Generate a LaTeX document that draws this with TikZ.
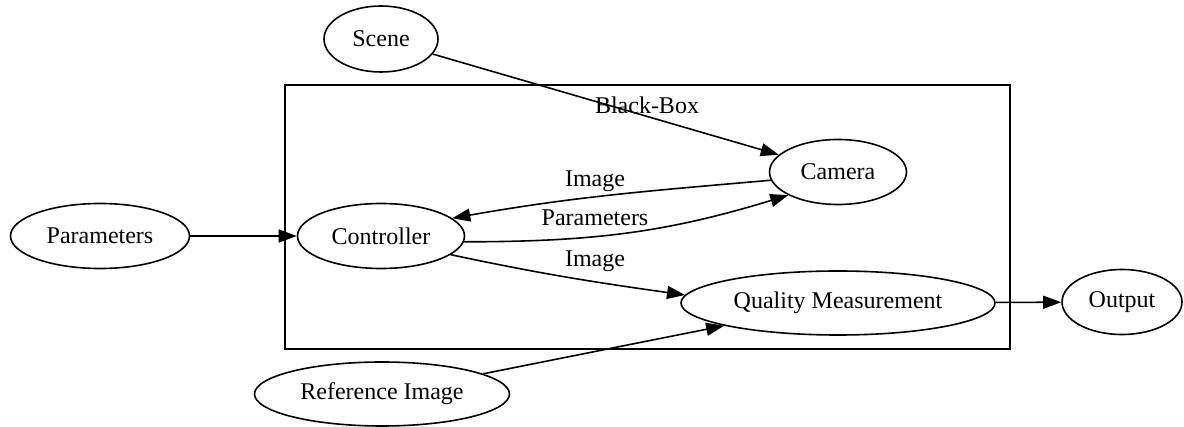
\documentclass[tikz,border=0pt]{standalone}
\usepackage{fontspec}
\setmainfont{Liberation Serif}
\usetikzlibrary{arrows.meta,shapes.geometric}
\begin{document}
\begin{tikzpicture}[x=0.5pt,y=-0.5pt,
  font=\fontsize{12}{14}\selectfont,
  every node/.style={inner sep=0pt},
  oval/.style={ellipse, draw, line width=0.8pt, minimum height=32.5pt},
  link/.style={draw, line width=0.8pt, -{Triangle[length=9pt,width=6.5pt]}},
  cluster/.style={draw, line width=0.8pt}]
\useasboundingbox (0,0) rectangle (1184,427);

% black-box cluster
\draw[cluster] (285,85) rectangle (1010,349);
\node (bblabel) at (647,105) {Black-Box};

% nodes
\node[oval, minimum width=57pt, minimum height=33pt] (scene) at (381,39) {Scene};
\node[oval, minimum width=89.5pt] (params) at (100,236) {Parameters};
\node[oval, minimum width=83.5pt] (ctrl) at (381,236) {Controller};
\node[oval, minimum width=68.5pt] (cam) at (838,172) {Camera};
\node[oval, minimum width=157pt, minimum height=32pt] (qm) at (838,303) {Quality Measurement};
\node[oval, minimum width=60pt] (out) at (1122,302) {Output};
\node[oval, minimum width=127.5pt, minimum height=32pt] (ref) at (382,394) {Reference Image};

% edge labels
\node (limg1) at (595,181) {Image};
\node (lpar) at (595,218) {Parameters};
\node (limg2) at (595,261) {Image};

% edges
\draw[link] (scene) -- (cam);
\draw[link] (params) -- (ctrl);
\draw[link] (cam.187) to[out=185,in=10] (ctrl.14);
\draw[link] (ctrl.-4) to[out=0,in=197] (cam.205);
\draw[link] (ctrl.-15) to[out=-12,in=172] (qm.177);
\draw[link] (ref) -- (qm);
\draw[link] (qm) -- (out);
\end{tikzpicture}
\end{document}
